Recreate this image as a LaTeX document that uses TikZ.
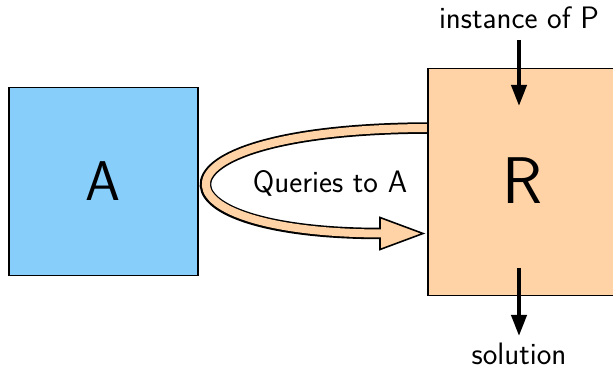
\documentclass[tikz,border=0pt]{standalone}
\usepackage{fontspec}
\usetikzlibrary{arrows.meta}
\definecolor{boxblue}{RGB}{135,206,250}
\definecolor{peach}{RGB}{255,211,165}
\tikzset{
  box/.style={draw=black, line width=1.5pt, minimum width=#1, anchor=north west, inner sep=0pt},
  lbl/.style={font=\sffamily\fontsize{31}{34}\selectfont, inner sep=0pt},
  big/.style={font=\sffamily\fontsize{#1}{#1}\selectfont, inner sep=0pt},
  flow/.style={line width=4pt, -{Triangle[width=15pt,length=21pt]}}
}
\begin{document}
\begin{tikzpicture}[x=1pt,y=-1pt]
\useasboundingbox (0,0) rectangle (613,371);
% loop arrow
\coordinate (ls) at (432,128);
\coordinate (le) at (381,233.5);
\draw[line width=11.5pt] (ls) .. controls (139,128) and (139,233.5) .. (le);
\filldraw[fill=peach, draw=black, line width=1.6pt, line join=miter] (380,217.5) -- (423,233.5) -- (380,249.5) -- cycle;
\draw[line width=8pt, peach] (ls) .. controls (139,128) and (139,233.5) .. ([xshift=3pt]le);
% boxes
\node[box=189pt, minimum height=188pt, fill=boxblue] (A) at (8,87) {};
\node[box=190pt, minimum height=227pt, fill=peach] (R) at (427,68) {};
\node[big=56, anchor=base] at (103,201) {A};
\node[big=66, anchor=base] at (522,204) {R};
\node[lbl] at (330,183) {Queries to A};
\node[lbl] (inst) at (519,18) {instance of P};
\node[lbl, anchor=base] (sol) at (519,364) {solution};
\coordinate (t1) at (519,40);
\coordinate (t2) at (519,106);
\coordinate (b1) at (519,268);
\coordinate (b2) at (519,336);
\draw[flow] (t1) -- (t2);
\draw[flow] (b1) -- (b2);
\end{tikzpicture}
\end{document}
